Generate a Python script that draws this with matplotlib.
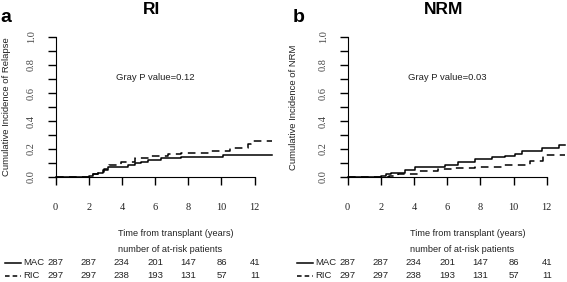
import matplotlib
matplotlib.use("Agg")
import matplotlib.pyplot as plt
import matplotlib.transforms as mtrans
from matplotlib.lines import Line2D

plt.rcParams['font.family'] = ['Liberation Sans', 'DejaVu Sans']

# cumulative incidence step curves (time in years, value)
ri_mac_t = [0, 2.0, 2.25, 2.55, 2.85, 3.15, 3.95, 4.35, 4.76, 5.15, 5.56, 6.36, 7.56, 10.08, 13.05]
ri_mac_y = [0, 0.01, 0.02, 0.031, 0.05, 0.069, 0.075, 0.087, 0.098, 0.11, 0.12, 0.133, 0.14, 0.157, 0.157]
ri_ric_t = [0, 2.0, 2.25, 2.55, 2.9, 3.25, 3.95, 4.76, 5.76, 6.76, 7.56, 9.28, 10.5, 11.6, 11.8, 13.05]
ri_ric_y = [0, 0.01, 0.022, 0.038, 0.06, 0.086, 0.11, 0.138, 0.15, 0.164, 0.174, 0.188, 0.205, 0.236, 0.257, 0.257]

nrm_mac_t = [0, 2.0, 2.3, 2.64, 3.44, 4.04, 5.85, 6.66, 7.66, 8.7, 9.5, 10.1, 10.5, 11.7, 12.72, 13.1]
nrm_mac_y = [0, 0.01, 0.02, 0.031, 0.05, 0.069, 0.086, 0.11, 0.126, 0.14, 0.15, 0.164, 0.188, 0.205, 0.229, 0.229]
nrm_ric_t = [0, 2.0, 2.5, 3.04, 4.25, 5.45, 6.46, 7.66, 9.3, 11.0, 11.8, 13.1]
nrm_ric_y = [0, 0.003, 0.007, 0.02, 0.045, 0.055, 0.062, 0.069, 0.086, 0.117, 0.157, 0.157]

risk_times = [0, 2, 4, 6, 8, 10, 12]
mac_risk = [287, 287, 234, 201, 147, 86, 41]
ric_risk = [297, 297, 238, 193, 131, 57, 11]

panels = [
    ("a", "RI", "Cumulative Incidence of Relapse", "Gray P value=0.12",
     ri_mac_t, ri_mac_y, ri_ric_t, ri_ric_y),
    ("b", "NRM", "Cumulative Incidence of NRM", "Gray P value=0.03",
     nrm_mac_t, nrm_mac_y, nrm_ric_t, nrm_ric_y),
]

W, H = 567, 282
fig = plt.figure(figsize=(W / 100, H / 100), dpi=100)

px_per_year = 16.6
xmax = 13.2
lefts = [55.5, 347.5]
ylab_x = [7, 293]
letter_x = [6, 299]
serif = 'Liberation Serif'
txt = '#222222'

for i, (letter, title, ylabel, ptext, mt, my, rt, ry) in enumerate(panels):
    x0 = lefts[i]
    ax = fig.add_axes([x0 / W, (H - 177) / H, xmax * px_per_year / W, 140 / H])
    ax.step(mt, my, where='post', color='black', lw=1.1, clip_on=False)
    ax.step(rt, ry, where='post', color='black', lw=1.1, ls=(0, (5, 3.5)), clip_on=False)
    ax.set_xlim(0, xmax)
    ax.set_ylim(0, 1)
    for s in ['top', 'right']:
        ax.spines[s].set_visible(False)
    ax.spines['bottom'].set_bounds(0, 12)
    ax.spines['left'].set_bounds(0, 1)
    ax.set_xticks(risk_times)
    ax.set_xticklabels([str(t) for t in risk_times], fontfamily=serif, fontsize=7.5, color=txt)
    ax.set_yticks([0, 0.2, 0.4, 0.6, 0.8, 1.0])
    ax.set_yticks([0.1, 0.3, 0.5, 0.7, 0.9], minor=True)
    ax.set_yticklabels(['0.0', '0.2', '0.4', '0.6', '0.8', '1.0'], fontfamily=serif,
                       fontsize=7.5, rotation=90, va='center', color='#444444')
    ax.tick_params(axis='x', length=6, width=1, pad=13)
    ax.tick_params(axis='y', which='both', length=6, width=1, pad=8)
    ax.patch.set_visible(False)

    ax.text(6, 0.71, ptext, ha='center', va='center', fontsize=6.8, color=txt)

    # titles and panel letters
    fig.text((x0 + 6 * px_per_year - 4) / W, 1 - 10 / H, title, ha='center', va='center',
             fontsize=12.5, fontweight='bold')
    fig.text(letter_x[i] / W, 1 - 17 / H, letter, ha='center', va='center',
             fontsize=14, fontweight='bold')
    fig.text(ylab_x[i] / W, 1 - 107 / H, ylabel, rotation=90, ha='center', va='center',
             fontsize=6.8, color=txt)

    # bottom texts
    fig.text((x0 + 120) / W, 1 - 233 / H, "Time from transplant (years)", ha='center',
             va='center', fontsize=6.6, color=txt)
    fig.text((x0 + 115) / W, 1 - 249 / H, "number of at-risk patients", ha='center',
             va='center', fontsize=6.6, color=txt)

    trans = mtrans.blended_transform_factory(ax.transData, fig.transFigure)
    for row, (name, vals, ls) in enumerate([("MAC", mac_risk, '-'), ("RIC", ric_risk, (0, (3, 2)))]):
        yy = 1 - (262.5 + 13.5 * row) / H
        base = x0 - 55.5
        fig.add_artist(Line2D([(base + 5) / W, (base + 20.5) / W], [yy, yy], color='black',
                              lw=1.1, ls=ls))
        fig.text((base + 23) / W, yy, name, ha='left', va='center', fontsize=6.8, color=txt)
        for t, v in zip(risk_times, vals):
            ax.text(t, yy, str(v), transform=trans, ha='center', va='center', fontsize=6.8,
                    color=txt, clip_on=False)

fig.savefig("out.png", dpi=100)
